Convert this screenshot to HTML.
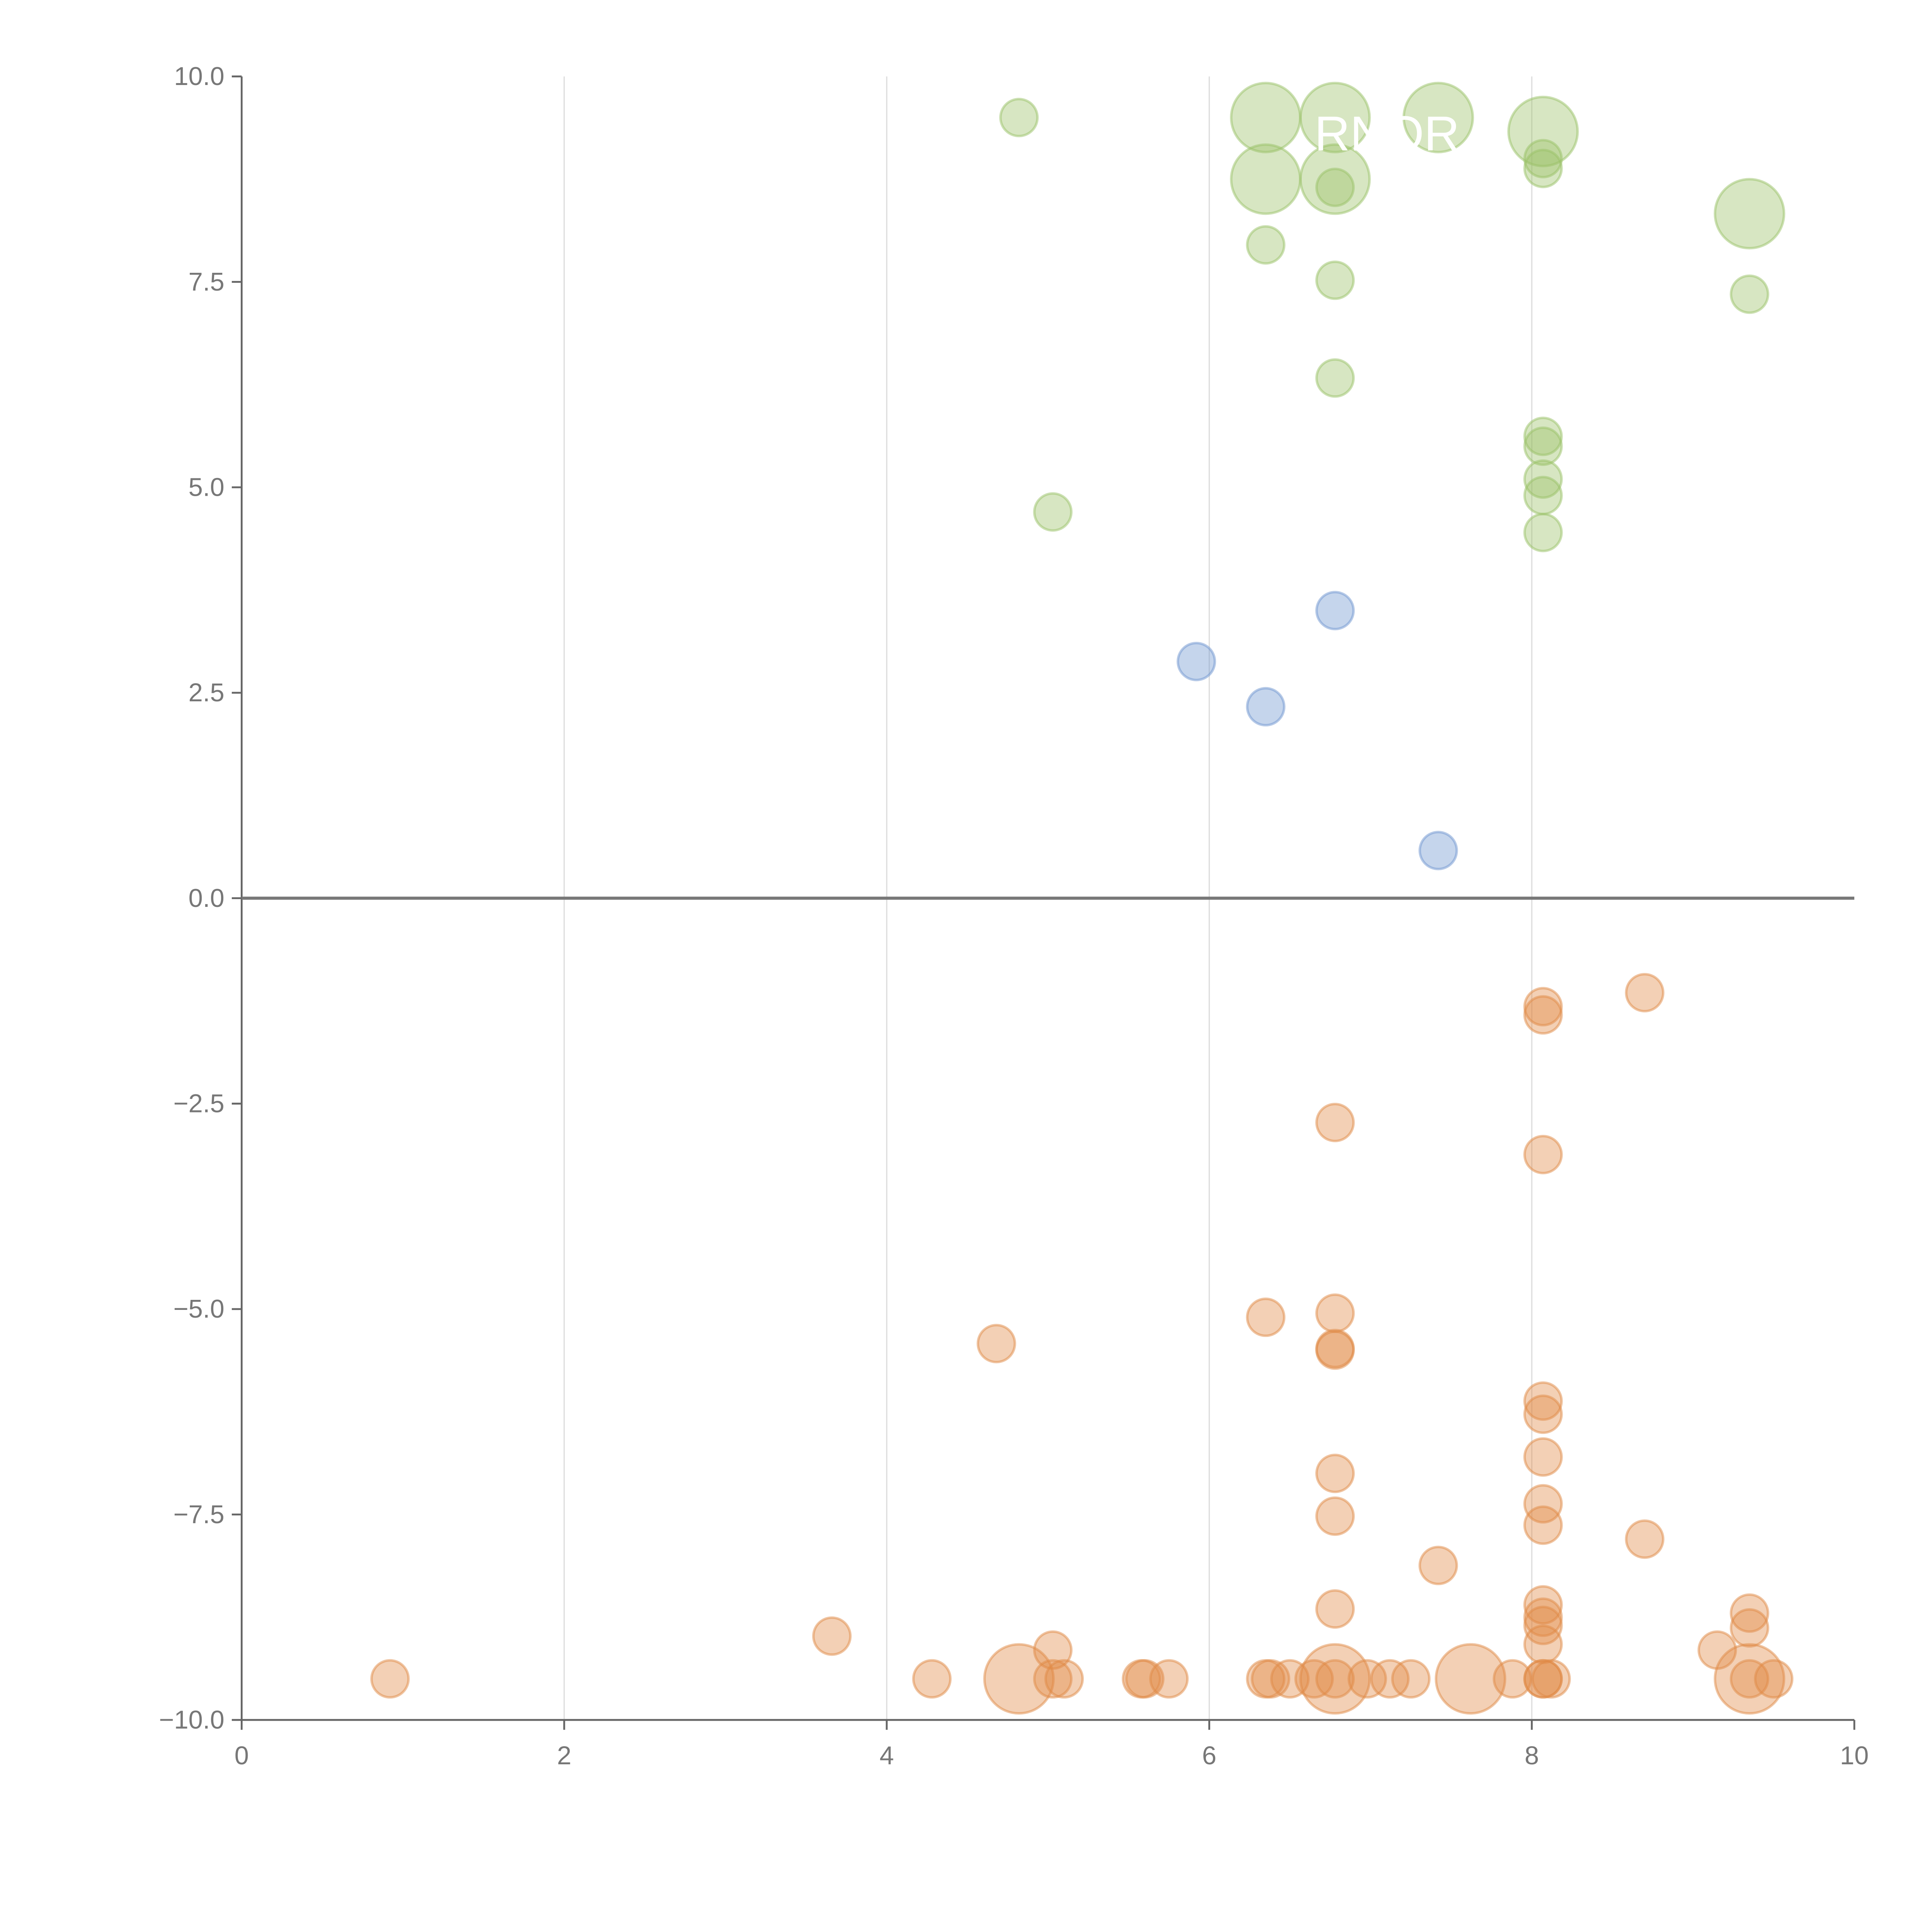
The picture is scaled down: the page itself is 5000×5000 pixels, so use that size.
<!DOCTYPE html>
<html><head><meta charset="utf-8"><style>
html,body{margin:0;padding:0;background:#fff;}
svg{display:block;}
text{font-family:"Liberation Sans",sans-serif;}
</style></head><body>
<svg id="chart" width="5000" height="5000" viewBox="0 0 1567 1567" xmlns="http://www.w3.org/2000/svg">
<g id="grid"></g>
<g id="marks"></g>
<g id="axes"></g>
<text x="1125" y="122" font-size="40" fill="#fff" text-anchor="middle">RNOR</text>
</svg>
<script>
const xTicks=[0,2,4,6,8,10];
const yTicks=[10,7.5,5,2.5,0,-2.5,-5,-7.5,-10];
const greenX=[4.82,6.35,6.78,7.42,8.07,6.35,6.78,6.78,8.07,8.07,9.35,6.35,6.78,9.35,6.78,8.07,8.07,8.07,8.07,8.07,5.03];
const greenY=[9.5,9.5,9.5,9.5,9.33,8.75,8.75,8.65,9.0,8.88,8.33,7.95,7.52,7.35,6.33,5.62,5.5,5.1,4.9,4.45,4.7];
const greenS=[1,2,2,2,2,2,2,1,1,1,2,1,1,1,1,1,1,1,1,1,1];
const blueX=[6.78,5.92,6.35,7.42];
const blueY=[3.5,2.88,2.33,0.58];
const blueS=[1,1,1,1];
const orangeX=[8.7,8.07,8.07,6.78,8.07,6.78,6.35,4.68,6.78,6.78,8.07,8.07,8.07,6.78,8.07,6.78,8.07,8.7,7.42,6.78,8.07,8.07,8.07,9.35,9.35,3.66,8.07,5.03,9.15,
0.92,4.28,4.82,5.03,5.1,5.58,5.6,5.75,6.35,6.38,6.5,6.65,6.78,6.78,6.98,7.12,7.25,7.62,7.88,8.07,8.07,8.12,9.35,9.35,9.5];
const orangeY=[-1.15,-1.32,-1.42,-2.73,-3.12,-5.05,-5.1,-5.42,-5.48,-5.5,-6.12,-6.28,-6.8,-7.0,-7.37,-7.52,-7.63,-7.8,-8.12,-8.65,-8.6,-8.75,-8.85,-8.7,-8.88,-8.98,-9.08,-9.15,-9.15,
-9.5,-9.5,-9.5,-9.5,-9.5,-9.5,-9.5,-9.5,-9.5,-9.5,-9.5,-9.5,-9.5,-9.5,-9.5,-9.5,-9.5,-9.5,-9.5,-9.5,-9.5,-9.5,-9.5,-9.5,-9.5];
const orangeS=[1,1,1,1,1,1,1,1,1,1,1,1,1,1,1,1,1,1,1,1,1,1,1,1,1,1,1,1,1,
1,1,2,1,1,1,1,1,1,1,1,1,2,1,1,1,1,2,1,1,1,1,2,1,1];

const NS="http://www.w3.org/2000/svg";
const X0=196,X1=1504,Y0=1395,Y1=62;
function sx(v){return X0+(v-0)/(10-0)*(X1-X0);}
function sy(v){return Y0-(v+10)/(20)*(Y0-Y1);}
function el(t,a,p){const e=document.createElementNS(NS,t);for(const k in a)e.setAttribute(k,a[k]);p.appendChild(e);return e;}
const grid=document.getElementById('grid'),axes=document.getElementById('axes'),marks=document.getElementById('marks');
xTicks.forEach(t=>{
  if(t>0&&t<10){const g=el('line',{x1:sx(t),x2:sx(t),y1:Y1,y2:Y0,stroke:'#ddd','stroke-width':1},grid);
  
  }
  el('line',{x1:sx(t),x2:sx(t),y1:Y0,y2:Y0+8,stroke:'#666','stroke-width':1.5},axes);
  const l=el('text',{x:sx(t),y:Y0+36,'font-size':21,fill:'#777','text-anchor':'middle'},axes);
  l.textContent=t;
  
  
});
yTicks.forEach(t=>{
  el('line',{x1:X0-8,x2:X0,y1:sy(t),y2:sy(t),stroke:'#666','stroke-width':1.5},axes);
  const l=el('text',{x:X0-14,y:sy(t)+7,'font-size':21,fill:'#777','text-anchor':'end'},axes);
  l.textContent=t.toFixed(1).replace('-','\u2212');
  
  
});
el('line',{x1:X0,x2:X0,y1:Y1,y2:Y0,stroke:'#666','stroke-width':1.5},axes);
el('line',{x1:X0,x2:X1,y1:Y0,y2:Y0,stroke:'#666','stroke-width':1.5},axes);
const z=el('line',{x1:X0,x2:X1,y1:sy(0),y2:sy(0),stroke:'#777','stroke-width':2.5},axes);


function draw(xs,ys,ss,col,name){
  xs.forEach((x,i)=>{
    const c=el('circle',{cx:sx(x),cy:sy(ys[i]),r:ss[i]==2?28:15,fill:col,'fill-opacity':0.4,stroke:col,'stroke-opacity':0.5,'stroke-width':2},marks);
    
    
  });
}
draw(greenX,greenY,greenS,'#9ac167','green-bubble');
draw(blueX,blueY,blueS,'#6f95cf','blue-bubble');
draw(orangeX,orangeY,orangeS,'#e08a45','orange-bubble');
</script>
</body></html>
